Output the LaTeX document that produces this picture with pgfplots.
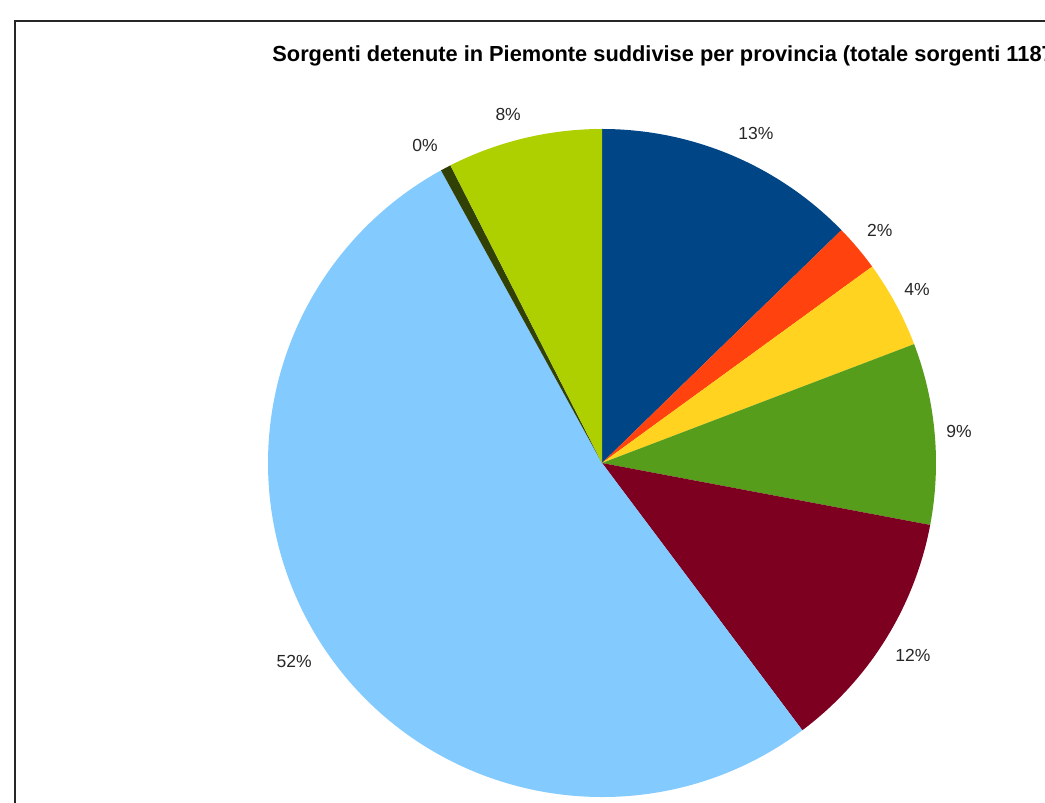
\documentclass[border=0pt]{standalone}
\usepackage{fontspec}
\setmainfont{Liberation Sans}
\usepackage{pgfplots}
\usepackage{pgfplotstable}
\pgfplotsset{compat=1.18}

% LibreOffice default chart palette
\definecolor{c1}{HTML}{004586}
\definecolor{c2}{HTML}{FF420E}
\definecolor{c3}{HTML}{FFD320}
\definecolor{c4}{HTML}{579D1C}
\definecolor{c5}{HTML}{7E0021}
\definecolor{c6}{HTML}{83CAFF}
\definecolor{c7}{HTML}{314004}
\definecolor{c8}{HTML}{AECF00}

% number of sources per slice, clockwise from the top
\pgfplotstableread{
slice count colour
1 151 c1
2 27  c2
3 50  c3
4 104 c4
5 140 c5
6 620 c6
7 6   c7
8 89  c8
}\sorgenti

\newcommand{\labelfont}{\fontsize{8.75}{10}\selectfont}

\begin{document}
\begin{tikzpicture}
% frame of the chart area (cut at right and bottom)
\draw[line width=1pt, black!85] (7.5pt,-20pt) rectangle (600pt,391pt);

\node[anchor=base west, inner sep=0pt, font=\fontsize{10.9}{13}\selectfont\bfseries]
  at (136pt,370.5pt) {Sorgenti detenute in Piemonte suddivise per provincia (totale sorgenti 1187)};

\begin{axis}[
  at={(134pt,3pt)}, anchor=south west,
  scale only axis, width=334pt, height=334pt,
  xmin=-1, xmax=1, ymin=-1, ymax=1,
  axis equal image,
  hide axis,
  clip=false,
]
\pgfmathsetmacro{\cum}{0}
\pgfplotsforeachungrouped \i in {0,...,7}{%
  \pgfplotstablegetelem{\i}{count}\of\sorgenti
  \pgfmathsetmacro{\aStart}{90-\cum/1187*360}
  \pgfmathsetmacro{\cum}{\cum+\pgfplotsretval}
  \pgfmathsetmacro{\aEnd}{90-\cum/1187*360}
  \pgfmathsetmacro{\xs}{cos(\aStart)}
  \pgfmathsetmacro{\ys}{sin(\aStart)}
  \pgfplotstablegetelem{\i}{colour}\of\sorgenti
  \edef\slice{\noexpand\fill[\pgfplotsretval] (axis cs:0,0) -- (axis cs:\xs,\ys)
    arc[start angle=\aStart, end angle=\aEnd, radius=1] -- cycle;}
  \slice
}

\begin{scope}[every node/.style={font=\labelfont, text=black!85}]
\node at (axis cs:0.461,0.988) {13\%};
\node at (axis cs:0.832,0.695) {2\%};
\node at (axis cs:0.943,0.521) {4\%};
\node at (axis cs:1.069,0.093) {9\%};
\node at (axis cs:0.931,-0.575) {12\%};
\node at (axis cs:-0.922,-0.593) {52\%};
\node at (axis cs:-0.530,0.952) {0\%};
\node at (axis cs:-0.281,1.042) {8\%};
\end{scope}
\end{axis}

\pgfresetboundingbox
\useasboundingbox (0pt,0pt) rectangle (522.5pt,401.5pt);
\end{tikzpicture}
\end{document}
